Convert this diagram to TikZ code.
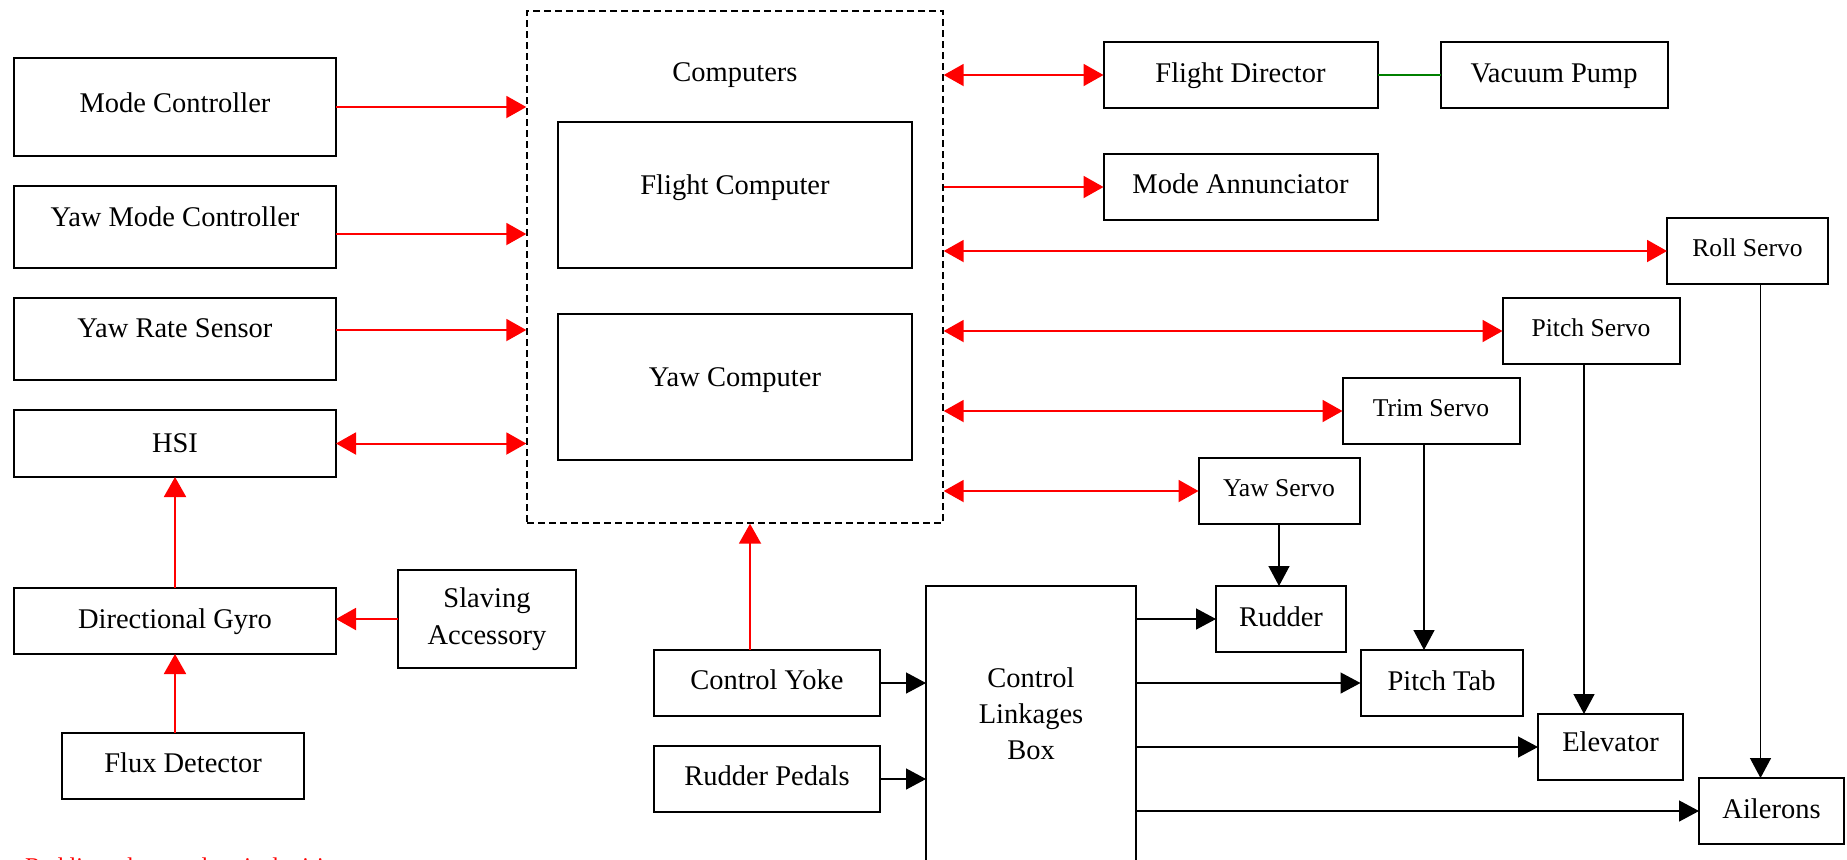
\documentclass[tikz,border=0pt]{standalone}
\usepackage{fontspec}
\setmainfont{Liberation Serif}
\usetikzlibrary{arrows.meta, positioning, calc}

\begin{document}
\begin{tikzpicture}[x=0.5pt, y=-0.5pt,
  box/.style={draw, line width=1pt, inner sep=0pt, outer sep=0pt,
    font=\fontsize{14.25}{18}\selectfont, text height=10pt, text depth=#1},
  box/.default=3pt,
  tallbox/.style={draw, line width=1pt, inner sep=0pt, outer sep=0pt,
    font=\fontsize{14.25}{18.5}\selectfont, align=center},
  servo/.style={box=#1, font=\fontsize{12.8}{16}\selectfont, text height=9pt,
    minimum height=33pt},
  servo/.default=4pt,
  wire/.style={red, line width=1pt},
  elec/.style={wire, -{Triangle[length=10pt,width=11pt]}},
  both/.style={wire, {Triangle[length=10pt,width=11pt]}-{Triangle[length=10pt,width=11pt]}},
  mech/.style={line width=0.7pt, -{Triangle[length=10pt,width=10.5pt]}}]
  \useasboundingbox (0,0) rectangle (1847,859);

  % Computers
  \node[draw, line width=0.7pt, dash pattern=on 3.5pt off 2pt, inner sep=0pt,
    minimum width=208pt, minimum height=256pt] (comp) at (735,267) {};
  \node[box=1pt, draw=none] (compl) at (735,72) {Computers};
  \node[box=11pt, minimum width=177pt, minimum height=73pt] (flightc) at (735,195) {Flight Computer};
  \node[box=11pt, minimum width=177pt, minimum height=73pt] (yawc) at (735,387) {Yaw Computer};

  % Left column
  \node[box=5pt, minimum width=161pt, minimum height=49pt] (modectl) at (175,107) {Mode Controller};
  \node[box=11pt, minimum width=161pt, minimum height=41pt] (yawmode) at (175,227) {Yaw Mode Controller};
  \node[box=12pt, minimum width=161pt, minimum height=41pt] (yawrate) at (175,339) {Yaw Rate Sensor};
  \node[box=1pt, minimum width=161pt, minimum height=33.5pt] (hsi) at (175,443.5) {HSI};
  \node[box, minimum width=161pt, minimum height=33pt] (gyro) at (175,621) {Directional Gyro};
  \node[box=4pt, minimum width=121pt, minimum height=33pt] (flux) at (183,766) {Flux Detector};
  \node[tallbox, minimum width=89pt, minimum height=49pt] (slave) at (487,619) {Slaving\\Accessory};

  % Right side
  \node[box, minimum width=137pt, minimum height=33pt] (fd) at (1240.5,75) {Flight Director};
  \node[box, minimum width=113.5pt, minimum height=33pt] (vp) at (1554,75) {Vacuum Pump};
  \node[box=4pt, minimum width=137pt, minimum height=33pt] (mann) at (1240.5,187) {Mode Annunciator};
  \node[servo, minimum width=80.5pt] (roll) at (1747.5,251) {Roll Servo};
  \node[servo, minimum width=88.5pt] (pitch) at (1591,331) {Pitch Servo};
  \node[servo, minimum width=88.5pt] (trim) at (1431,411) {Trim Servo};
  \node[servo, minimum width=80.5pt] (yaws) at (1279,491) {Yaw Servo};

  % Bottom
  \node[box=4pt, minimum width=113pt, minimum height=33pt] (yoke) at (767,683) {Control Yoke};
  \node[box=4pt, minimum width=113pt, minimum height=33pt] (pedals) at (767,779) {Rudder Pedals};
  \node[draw, line width=1pt, inner sep=0pt, outer sep=0pt,
    minimum width=105pt, minimum height=157pt] (link) at (1031,743) {};
  \node[align=center, font=\fontsize{14.25}{18}\selectfont] (linktxt) at (1031,714) {Control\\Linkages\\Box};
  \node[box, minimum width=65pt, minimum height=33pt] (rudder) at (1281,619) {Rudder};
  \node[box, minimum width=81pt, minimum height=33pt] (ptab) at (1441.5,683) {Pitch Tab};
  \node[box=6pt, minimum width=72.5pt, minimum height=33pt] (elev) at (1610.5,747) {Elevator};
  \node[box, minimum width=72.5pt, minimum height=33pt] (ail) at (1771.5,811) {Ailerons};

  % Note
  \node[red, anchor=base west, font=\fontsize{12}{14}\selectfont] (note) at (18,874) {Red lines denote electrical wiring};

  % Electrical wiring
  \draw[elec] (modectl.east) -- (modectl.east -| comp.west);
  \draw[elec] ([yshift=-3.5pt]yawmode.east) -- ([yshift=-3.5pt]yawmode.east -| comp.west);
  \draw[elec] ([yshift=4.5pt]yawrate.east) -- ([yshift=4.5pt]yawrate.east -| comp.west);
  \draw[both] (hsi.east) -- (hsi.east -| comp.west);
  \draw[elec] (gyro.north) -- (hsi.south);
  \draw[elec] (gyro.south |- flux.north) -- (gyro.south);
  \draw[elec] (slave.west) -- (slave.west -| gyro.east);
  \draw[elec] ([xshift=-8.5pt]yoke.north) -- ([xshift=-8.5pt]yoke.north |- comp.south);
  \foreach \n in {fd, roll, pitch, trim, yaws}
    \draw[both] (\n.west -| comp.east) -- (\n.west);
  \draw[elec] (mann.west -| comp.east) -- (mann.west);
  \draw[green!50!black, line width=0.7pt] (fd.east) -- (vp.west);

  % Mechanical links
  \draw[mech] (yoke.east) -- (yoke.east -| link.west);
  \draw[mech] (pedals.east) -- (pedals.east -| link.west);
  \foreach \n in {rudder, ptab, elev, ail}
    \draw[mech] (\n.west -| link.east) -- (\n.west);
  \draw[mech] (yaws.south) -- (yaws.south |- rudder.north);
  \draw[mech] ([xshift=-3.5pt]trim.south) -- ([xshift=-3.5pt]trim.south |- ptab.north);
  \draw[mech] ([xshift=-3.5pt]pitch.south) -- ([xshift=-3.5pt]pitch.south |- elev.north);
  \draw[mech] ([xshift=6.5pt]roll.south) -- ([xshift=6.5pt]roll.south |- ail.north);
\end{tikzpicture}
\end{document}
